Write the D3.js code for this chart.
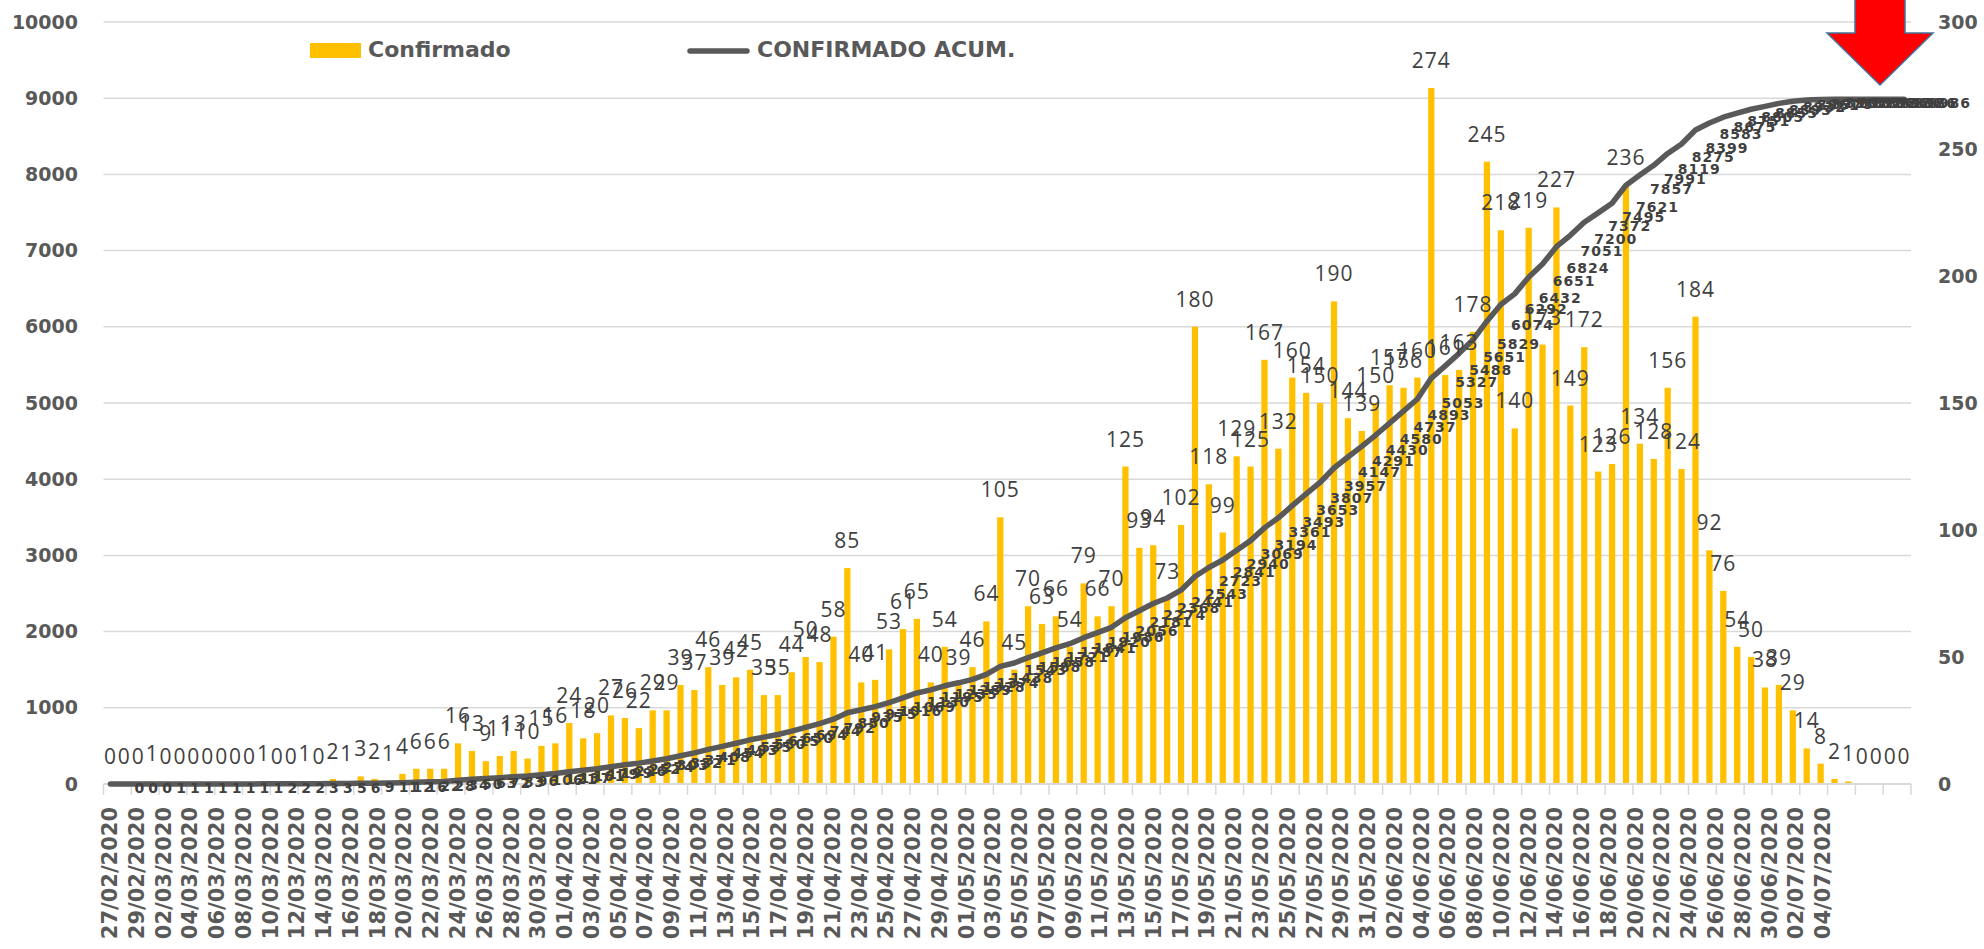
<!DOCTYPE html>
<html>
<head>
<meta charset="utf-8">
<script src="https://cdn.jsdelivr.net/npm/d3@7/dist/d3.min.js"></script>
<style>
  html, body { margin: 0; padding: 0; background: #ffffff; }
  svg { display: block; }
</style>
</head>
<body>
<div id="chart"></div>
<script>
// casos confirmados por dia (barras, eje derecho)
const confirmado = [
    0, 0, 0, 1, 0, 0, 0, 0, 0, 0, 0, 1, 0, 0, 1, 0, 2, 1, 3, 2, 1, 4, 6, 6, 6,
    16, 13, 9, 11, 13, 10, 15, 16, 24, 18, 20, 27, 26, 22, 29, 29, 39, 37, 46,
    39, 42, 45, 35, 35, 44, 50, 48, 58, 85, 40, 41, 53, 61, 65, 40, 54, 39, 46, 64, 105, 45,
    70, 63, 66, 54, 79, 66, 70, 125, 93, 94, 73, 102, 180, 118, 99, 129, 125, 167, 132, 160, 154, 150,
    190, 144, 139, 150, 157, 156, 160, 274, 161, 163, 178, 245, 218, 140, 219, 173, 227, 149, 172, 123,
    126, 236, 134, 128, 156, 124, 184, 92, 76, 54, 50, 38, 39, 29, 14, 8, 2, 1, 0, 0, 0, 0
];

// acumulado (linea, eje izquierdo)
const confirmadoAcum = [
    0, 0, 0, 1, 1, 1, 1, 1, 1, 1, 1, 2, 2, 2, 3, 3, 5, 6, 9, 11, 12, 16, 22, 28, 34,
    50, 63, 72, 83, 96, 106, 121, 137, 161, 179, 199, 226, 252, 274, 303, 332, 371, 408, 454,
    493, 535, 580, 615, 650, 694, 744, 792, 850, 935, 975, 1016, 1069, 1130, 1195, 1235, 1289, 1328, 1374, 1438, 1543, 1588,
    1658, 1721, 1787, 1841, 1920, 1986, 2056, 2181, 2274, 2368, 2441, 2543, 2723, 2841, 2940, 3069, 3194, 3361, 3493, 3653, 3807, 3957,
    4147, 4291, 4430, 4580, 4737, 4893, 5053, 5327, 5488, 5651, 5829, 6074, 6292, 6432, 6651, 6824, 7051, 7200, 7372, 7495,
    7621, 7857, 7991, 8119, 8275, 8399, 8583, 8675, 8751, 8805, 8855, 8893, 8932, 8961, 8975, 8983, 8985, 8986, 8986, 8986, 8986, 8986
];

// etiquetas del eje x (cada 2 dias)
const fechas = [
    "27/02/2020", "29/02/2020", "02/03/2020", "04/03/2020", "06/03/2020", "08/03/2020", "10/03/2020",
    "12/03/2020", "14/03/2020", "16/03/2020", "18/03/2020", "20/03/2020", "22/03/2020", "24/03/2020",
    "26/03/2020", "28/03/2020", "30/03/2020", "01/04/2020", "03/04/2020", "05/04/2020", "07/04/2020",
    "09/04/2020", "11/04/2020", "13/04/2020", "15/04/2020", "17/04/2020", "19/04/2020", "21/04/2020",
    "23/04/2020", "25/04/2020", "27/04/2020", "29/04/2020", "01/05/2020", "03/05/2020", "05/05/2020",
    "07/05/2020", "09/05/2020", "11/05/2020", "13/05/2020", "15/05/2020", "17/05/2020", "19/05/2020",
    "21/05/2020", "23/05/2020", "25/05/2020", "27/05/2020", "29/05/2020", "31/05/2020", "02/06/2020",
    "04/06/2020", "06/06/2020", "08/06/2020", "10/06/2020", "12/06/2020", "14/06/2020", "16/06/2020",
    "18/06/2020", "20/06/2020", "22/06/2020", "24/06/2020", "26/06/2020", "28/06/2020", "30/06/2020",
    "02/07/2020", "04/07/2020"
];

const ticksIzq = d3.range(0, 10001, 1000);
const ticksDer = d3.range(0, 301, 50);

(function() {
    const width = 1984;
    const height = 949;
    const n = confirmado.length;

    const svg = d3.select("#chart")
        .append("svg")
        .attr("width", width)
        .attr("height", height);

    const x = d3.scaleBand()
        .domain(d3.range(n))
        .range([103.5, 1911])
        .paddingInner(0.55)
        .paddingOuter(0.275);
    const cx = i => x(i) + x.bandwidth() / 2;

    const yL = d3.scaleLinear().domain([0, 10000]).range([784, 22]);
    const yR = d3.scaleLinear().domain([0, 300]).range([784, 22]);

    // labels of the x axis are spread a bit tighter than the bars in the original
    const xLab = d3.scalePoint().domain(fechas).range([109, 1822]);

    // gridlines
    svg.append("g")
        .selectAll("line")
        .data(ticksIzq.filter(d => d > 0))
        .join("line")
        .attr("x1", 103.5).attr("x2", 1911)
        .attr("y1", d => yL(d)).attr("y2", d => yL(d))
        .attr("stroke", "#d9d9d9")
        .attr("stroke-width", 1.5);

    // tick marks every two days
    const bounds = d3.range(0, n + 1, 2).map(i => i < n ? cx(i) - x.step() / 2 : cx(n - 1) + x.step() / 2);
    svg.append("g")
        .selectAll("line")
        .data(bounds)
        .join("line")
        .attr("x1", d => d).attr("x2", d => d)
        .attr("y1", 784).attr("y2", 795)
        .attr("stroke", "#d9d9d9")
        .attr("stroke-width", 1.5);

    // bars
    svg.append("g")
        .selectAll("rect")
        .data(confirmado)
        .join("rect")
        .attr("x", (d, i) => x(i))
        .attr("width", x.bandwidth())
        .attr("y", d => yR(d))
        .attr("height", d => yR(0) - yR(d))
        .attr("fill", "#ffc000");

    // axis line
    svg.append("line")
        .attr("x1", 103.5).attr("x2", 1911)
        .attr("y1", 784).attr("y2", 784)
        .attr("stroke", "#d9d9d9")
        .attr("stroke-width", 2);

    // cumulative line
    const line = d3.line()
        .x((d, i) => cx(i))
        .y(d => yL(d));

    svg.append("path")
        .datum(confirmadoAcum)
        .attr("d", line)
        .attr("fill", "none")
        .attr("stroke", "#595959")
        .attr("stroke-width", 5.5)
        .attr("stroke-linejoin", "round")
        .attr("stroke-linecap", "round");

    // daily labels
    svg.append("g")
        .selectAll("text")
        .data(confirmado)
        .join("text")
        .attr("x", (d, i) => cx(i))
        .attr("y", d => yR(d) - 20)
        .attr("text-anchor", "middle")
        .attr("font-family", "'Open Sans', sans-serif")
        .attr("font-size", 21)
        .attr("letter-spacing", 1)
        .attr("fill", "#404040")
        .text(d => d);

    // cumulative labels (to the right of the point)
    svg.append("g")
        .selectAll("text")
        .data(confirmadoAcum)
        .join("text")
        .attr("x", (d, i) => cx(i) + 24)
        .attr("y", d => yL(d) + 5)
        .attr("dominant-baseline", "middle")
        .attr("font-family", "'DejaVu Sans', sans-serif")
        .attr("font-weight", "bold")
        .attr("font-size", 14)
        .attr("letter-spacing", 1)
        .attr("fill", "#404040")
        .text(d => d);

    // left axis
    const axisL = svg.append("g")
        .attr("transform", "translate(78,0)")
        .call(d3.axisLeft(yL).tickValues(ticksIzq).tickFormat(d3.format("d")).tickSize(0).tickPadding(0));
    axisL.select(".domain").remove();
    axisL.selectAll("text")
        .attr("font-family", "'DejaVu Sans', sans-serif")
        .attr("font-weight", "bold")
        .attr("font-size", 19)
        .attr("fill", "#595959");

    // right axis
    const axisR = svg.append("g")
        .attr("transform", "translate(1938,0)")
        .call(d3.axisRight(yR).tickValues(ticksDer).tickFormat(d3.format("d")).tickSize(0).tickPadding(0));
    axisR.select(".domain").remove();
    axisR.selectAll("text")
        .attr("font-family", "'DejaVu Sans', sans-serif")
        .attr("font-weight", "bold")
        .attr("font-size", 19)
        .attr("fill", "#595959");

    // date labels
    const axisX = svg.append("g")
        .attr("transform", "translate(0,784)")
        .call(d3.axisBottom(xLab).tickSize(0).tickPadding(0));
    axisX.select(".domain").remove();
    axisX.selectAll("text")
        .attr("transform", "rotate(-90)")
        .attr("text-anchor", "end")
        .attr("x", -23)
        .attr("y", 0)
        .attr("dy", "0.36em")
        .attr("font-family", "'DejaVu Sans', sans-serif")
        .attr("font-weight", "bold")
        .attr("font-size", 21)
        .attr("fill", "#595959");

    // legend
    const legend = svg.append("g");
    legend.append("rect")
        .attr("x", 310).attr("y", 43)
        .attr("width", 51).attr("height", 15)
        .attr("fill", "#ffc000");
    legend.append("text")
        .attr("x", 368).attr("y", 51)
        .attr("dominant-baseline", "middle")
        .attr("font-family", "'DejaVu Sans', sans-serif")
        .attr("font-weight", "bold")
        .attr("font-size", 22)
        .attr("fill", "#595959")
        .text("Confirmado");
    legend.append("line")
        .attr("x1", 690).attr("x2", 747)
        .attr("y1", 51).attr("y2", 51)
        .attr("stroke", "#595959")
        .attr("stroke-width", 5.5)
        .attr("stroke-linecap", "round");
    legend.append("text")
        .attr("x", 757).attr("y", 51)
        .attr("dominant-baseline", "middle")
        .attr("font-family", "'DejaVu Sans', sans-serif")
        .attr("font-weight", "bold")
        .attr("font-size", 22)
        .attr("fill", "#595959")
        .text("CONFIRMADO ACUM.");

    // red arrow
    svg.append("path")
        .attr("d", "M1855,-5 L1905,-5 L1905,33 L1933,33 L1880,85 L1827,33 L1855,33 Z")
        .attr("fill", "#ff0000")
        .attr("stroke", "#41719c")
        .attr("stroke-width", 1.5);
})();
</script>
</body>
</html>
